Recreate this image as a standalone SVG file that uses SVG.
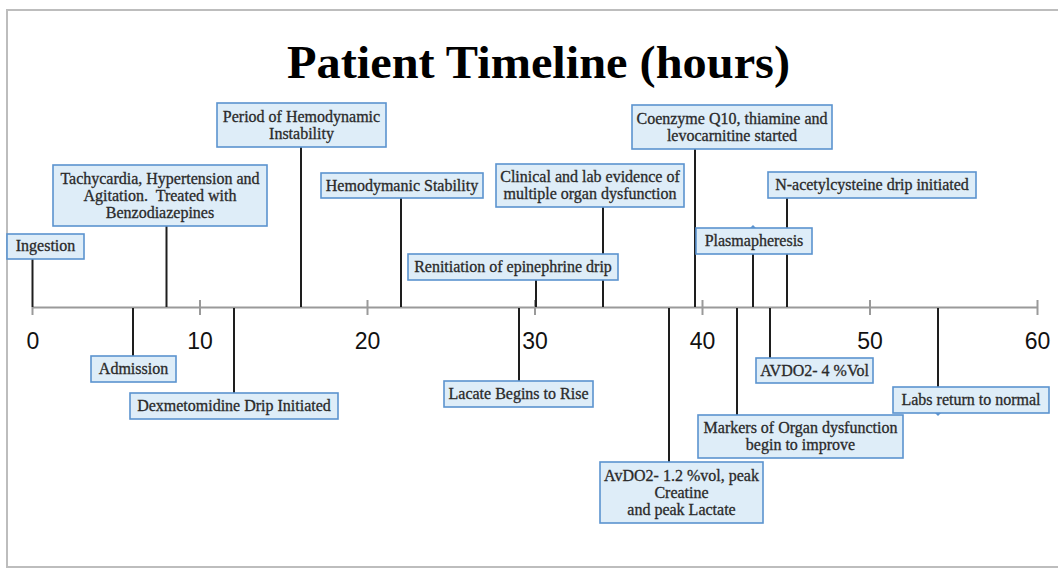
<svg xmlns="http://www.w3.org/2000/svg" width="1058" height="569" viewBox="0 0 1058 569">
<style>
.box{fill:#deedf8;stroke:#5b93cf;stroke-width:1.6}
.t{font-family:"Liberation Serif","Times New Roman",serif;font-size:16px;fill:#2a2a2a;stroke:#2a2a2a;stroke-width:0.3;text-anchor:middle}
.c{stroke:#1e1e1e;stroke-width:2;fill:none}
.ax{stroke:#9a9a9a;stroke-width:2;fill:none}
.num{font-family:"Liberation Sans",Arial,sans-serif;font-size:23px;fill:#111;text-anchor:middle}
.title{font-family:"Liberation Serif","Times New Roman",serif;font-weight:bold;font-size:46px;fill:#000;text-anchor:middle}
</style>
<rect x="0" y="0" width="1058" height="569" fill="#fff"/>
<rect x="7" y="10" width="1062" height="557" fill="none" stroke="#bdbdbd" stroke-width="2"/>
<text class="title" x="538.5" y="78" textLength="503" lengthAdjust="spacingAndGlyphs">Patient Timeline (hours)</text>

<g id="axis">
<line class="ax" x1="32.5" y1="307.5" x2="1037.5" y2="307.5"/>
<line class="ax" x1="32.5" y1="307" x2="32.5" y2="315"/>
<line class="ax" x1="200" y1="300" x2="200" y2="315"/>
<line class="ax" x1="367.5" y1="300" x2="367.5" y2="315"/>
<line class="ax" x1="535" y1="300" x2="535" y2="315"/>
<line class="ax" x1="702.5" y1="300" x2="702.5" y2="315"/>
<line class="ax" x1="870" y1="300" x2="870" y2="315"/>
<line class="ax" x1="1037.5" y1="300" x2="1037.5" y2="315"/>
<text class="num" x="33" y="349">0</text>
<text class="num" x="200" y="349">10</text>
<text class="num" x="367.5" y="349">20</text>
<text class="num" x="535" y="349">30</text>
<text class="num" x="702.5" y="349">40</text>
<text class="num" x="870" y="349">50</text>
<text class="num" x="1037.5" y="349">60</text>
</g>

<g id="connectors">
<line class="c" x1="32.5" y1="259" x2="32.5" y2="307"/>
<line class="c" x1="166.5" y1="226" x2="166.5" y2="307"/>
<line class="c" x1="301" y1="147" x2="301" y2="307"/>
<line class="c" x1="401" y1="198" x2="401" y2="307"/>
<line class="c" x1="536" y1="280" x2="536" y2="307"/>
<line class="c" x1="603" y1="207" x2="603" y2="307"/>
<line class="c" x1="695" y1="149" x2="695" y2="307"/>
<line class="c" x1="787" y1="198" x2="787" y2="307"/>
<line class="c" x1="753" y1="254" x2="753" y2="307"/>
<line class="c" x1="133" y1="308" x2="133" y2="356"/>
<line class="c" x1="234" y1="308" x2="234" y2="393"/>
<line class="c" x1="519" y1="308" x2="519" y2="381"/>
<line class="c" x1="669" y1="308" x2="669" y2="462"/>
<line class="c" x1="737" y1="308" x2="737" y2="415"/>
<line class="c" x1="770" y1="308" x2="770" y2="358"/>
<line class="c" x1="938" y1="308" x2="938" y2="387"/>
</g>

<g id="ingestion"><rect class="box" x="7" y="234" width="77" height="25"/><text class="t" x="45.5" y="251">Ingestion</text></g>
<g id="tachycardia"><rect class="box" x="53" y="165" width="214" height="61"/><text class="t" x="160" y="184">Tachycardia, Hypertension and</text><text class="t" x="160" y="201" xml:space="preserve">Agitation.  Treated with</text><text class="t" x="160" y="218">Benzodiazepines</text></g>
<g id="instability"><rect class="box" x="217" y="103" width="169" height="44"/><text class="t" x="301.5" y="122">Period of Hemodynamic</text><text class="t" x="301.5" y="139">Instability</text></g>
<g id="stability"><rect class="box" x="321" y="173" width="162" height="25"/><text class="t" x="402" y="191">Hemodymanic Stability</text></g>
<g id="renitiation"><rect class="box" x="408" y="254" width="210" height="26"/><text class="t" x="513" y="272">Renitiation of epinephrine drip</text></g>
<g id="clinical"><rect class="box" x="496" y="164" width="188" height="43"/><text class="t" x="590" y="182">Clinical and lab evidence of</text><text class="t" x="590" y="199">multiple organ dysfunction</text></g>
<g id="coenzyme"><rect class="box" x="632" y="105" width="200" height="44"/><text class="t" x="732" y="124">Coenzyme Q10, thiamine and</text><text class="t" x="732" y="141">levocarnitine started</text></g>
<g id="nac"><rect class="box" x="768" y="172" width="208" height="26"/><text class="t" x="872" y="190">N-acetylcysteine drip initiated</text></g>
<g id="plasmapheresis"><path d="M750,228 L753,225 L756,228 Z" fill="#5b93cf"/><rect class="box" x="696" y="228" width="116" height="26"/><text class="t" x="754" y="246">Plasmapheresis</text></g>
<g id="admission"><rect class="box" x="91" y="356" width="85" height="26"/><text class="t" x="133.5" y="374">Admission</text></g>
<g id="dexmetomidine"><rect class="box" x="130" y="393" width="208" height="26"/><text class="t" x="234" y="411">Dexmetomidine Drip Initiated</text></g>
<g id="lactate-rise"><rect class="box" x="444" y="381" width="149" height="26"/><text class="t" x="518.5" y="399">Lacate Begins to Rise</text></g>
<g id="avdo2-peak"><rect class="box" x="600" y="462" width="163" height="61"/><text class="t" x="681.5" y="481">AvDO2- 1.2 %vol, peak</text><text class="t" x="681.5" y="498">Creatine</text><text class="t" x="681.5" y="515">and peak Lactate</text></g>
<g id="markers"><rect class="box" x="698" y="415" width="205" height="43"/><text class="t" x="800.5" y="433">Markers of Organ dysfunction</text><text class="t" x="800.5" y="450">begin to improve</text></g>
<g id="avdo2-4"><rect class="box" x="756" y="358" width="117" height="25"/><text class="t" x="814.5" y="376">AVDO2- 4 %Vol</text></g>
<g id="labs-normal"><path d="M935,413 L938,416 L941,413 Z" fill="#5b93cf"/><rect class="box" x="893" y="387" width="156" height="26"/><text class="t" x="971" y="405">Labs return to normal</text></g>
</svg>
